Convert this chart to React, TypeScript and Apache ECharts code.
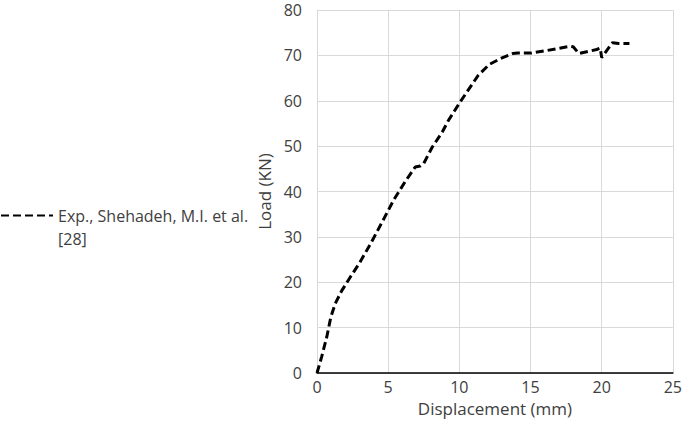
import React, { useEffect, useRef } from "react";
import * as echarts from "echarts";

const seriesName = "Exp., Shehadeh, M.I. et al.";
const seriesRef = "[28]";
const displacement = [0, 0.33, 0.69, 0.97, 1.27, 1.73, 2.31, 3.0, 3.8, 4.6, 5.4, 6.2, 6.9, 7.25, 7.5, 8.1, 8.8, 9.24, 10.05, 11.3, 12.1, 12.9, 13.75, 14.1, 15.0, 16.2, 17.8, 18.0, 18.4, 19.65, 19.9, 20.0, 20.76, 21.2, 21.95];
const load = [0, 3.6, 8.0, 12.3, 15.2, 18.1, 21.0, 24.3, 28.7, 33.4, 38.2, 42.2, 45.4, 45.6, 46.2, 49.8, 53.1, 55.7, 59.7, 65.5, 68.0, 69.3, 70.4, 70.5, 70.5, 71.1, 72.0, 71.9, 70.4, 71.3, 71.6, 69.5, 72.8, 72.6, 72.6];
const xTicks = { min: 0, max: 25, interval: 5 };
const yTicks = { min: 0, max: 80, interval: 10 };

const FONT = "'Open Sans', sans-serif";
const TEXT = "#404040";

export default function App() {
  const ref = useRef<HTMLDivElement>(null);
  useEffect(() => {
    if (!ref.current) return;
    const chart = echarts.init(ref.current, undefined, { renderer: "svg" });
    chart.setOption({
      animation: false,
      textStyle: { fontFamily: FONT },
      grid: { left: 317, right: 8, top: 10, bottom: 69, containLabel: false },
      legend: {
        orient: "vertical",
        left: 0,
        top: 181,
        padding: 0,
        itemWidth: 52,
        itemHeight: 14,
        itemStyle: { opacity: 0 },
        formatter: (name: string) => " \n" + name + "\n" + seriesRef,
        textStyle: {
          fontFamily: FONT,
          fontSize: 16,
          color: TEXT,
          lineHeight: 23,
        },
        data: [seriesName],
      },
      xAxis: {
        type: "value",
        min: xTicks.min,
        max: xTicks.max,
        interval: xTicks.interval,
        name: "Displacement (mm)",
        nameLocation: "middle",
        nameGap: 25,
        nameTextStyle: { fontFamily: FONT, fontSize: 17, color: TEXT },
        axisLine: { show: true, lineStyle: { color: "#000", width: 1.5 } },
        axisTick: { show: false },
        axisLabel: { margin: 6, fontFamily: FONT, fontSize: 16, color: TEXT },
        splitLine: { show: true, lineStyle: { color: "#d9d9d9", width: 1 } },
      },
      yAxis: {
        type: "value",
        min: yTicks.min,
        max: yTicks.max,
        interval: yTicks.interval,
        name: "Load (KN)",
        nameLocation: "middle",
        nameGap: 43,
        nameTextStyle: { fontFamily: FONT, fontSize: 17, color: TEXT },
        axisLine: { show: true, lineStyle: { color: "#d9d9d9", width: 1 } },
        axisTick: { show: false },
        axisLabel: { margin: 15, fontFamily: FONT, fontSize: 16, lineHeight: 16, color: TEXT },
        splitLine: { show: true, lineStyle: { color: "#d9d9d9", width: 1 } },
      },
      series: [
        {
          name: seriesName,
          type: "line",
          data: displacement.map((d, i) => [d, load[i]]),
          showSymbol: false,
          symbol: "none",
          smooth: false,
          lineStyle: { color: "#000", width: 3, type: [8, 4] },
          itemStyle: { color: "#000" },
        },
      ],
    });
    return () => chart.dispose();
  }, []);
  return (
    <div
      ref={ref}
      style={{ position: "fixed", left: 0, top: 0, width: 685, height: 442, background: "#fff" }}
    />
  );
}
